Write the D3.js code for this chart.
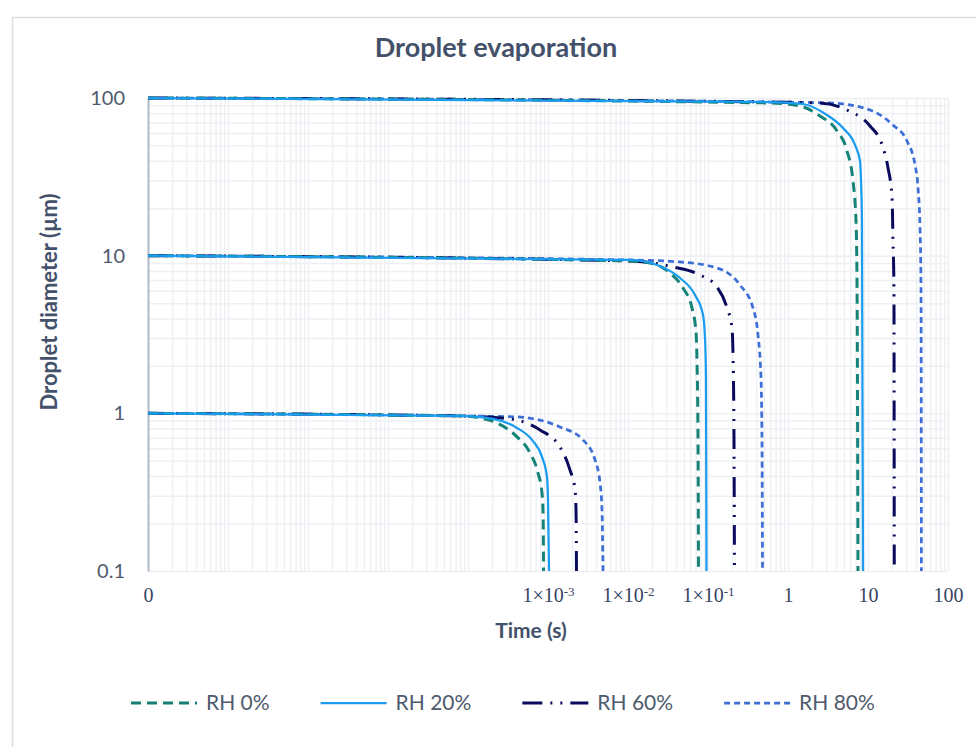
<!DOCTYPE html>
<html>
<head>
<meta charset="utf-8">
<script src="https://cdn.jsdelivr.net/npm/d3@7"></script>
<style>
body { margin: 0; background: #fff; }
</style>
</head>
<body>
<script>
//series names, legend order
var seriesNames = ["RH 0%", "RH 20%", "RH 60%", "RH 80%"];

//[time (s), droplet diameter (µm)], one array per RH and start size
var rh0_d100 = [[1e-8,100],[0.596,93.0],[1.41,89.0],[2.51,76.9],[4.10,61.8],[5.47,46.1],[6.49,29.8],[7.08,16.6],[7.29,6.91],[7.50,0.1]];
var rh20_d100 = [[1e-8,100],[0.596,94.3],[1.54,91.6],[3.07,78.0],[4.87,64.5],[6.88,50.4],[7.94,39.9],[8.18,29.8],[8.41,16.6],[8.66,0.1]];
var rh60_d100 = [[1e-8,100],[0.596,94.3],[2.51,93.0],[5.47,83.9],[10.6,66.4],[15.0,50.4],[17.8,36.0],[20.0,23.2],[20.5,12.9],[21.1,6.24],[21.3,0.1]];
var rh80_d100 = [[1e-8,100],[0.596,94.3],[3.35,93.0],[10.6,83.9],[20.5,67.4],[30.7,53.4],[38.7,37.6],[42.2,26.9],[44.7,15.0],[46.0,6.24],[46.5,0.1]];

var rh0_d10 = [[1e-8,10],[0.0106,9.26],[0.0188,8.99],[0.0335,7.77],[0.0487,6.24],[0.0631,4.66],[0.0708,3.28],[0.0729,2.12],[0.0750,0.70],[0.0760,0.1]];
var rh20_d10 = [[1e-8,10],[0.0106,9.39],[0.0230,8.73],[0.0447,7.22],[0.0688,5.63],[0.0866,4.21],[0.0917,3.01],[0.0944,1.68],[0.0958,0.1]];
var rh60_d10 = [[1e-8,10],[0.0106,9.26],[0.0365,8.48],[0.0794,7.54],[0.1296,6.33],[0.173,4.66],[0.1995,3.48],[0.2054,2.35],[0.2113,0.70],[0.2143,0.1]];
var rh80_d10 = [[1e-8,10],[0.0106,9.39],[0.0447,9.12],[0.1296,8.35],[0.2512,6.52],[0.365,4.66],[0.4217,3.14],[0.4597,1.68],[0.4732,0.63],[0.480,0.1]];

var rh0_d1 = [[1e-8,1],[7.94e-5,0.963],[1.41e-4,0.935],[2.30e-4,0.869],[4.10e-4,0.709],[5.96e-4,0.561],[7.50e-4,0.419],[8.41e-4,0.313],[8.66e-4,0.244],[8.8e-4,0.1]];
var rh20_d1 = [[1e-8,1],[7.94e-5,0.963],[2.05e-4,0.922],[4.10e-4,0.808],[6.31e-4,0.678],[8.41e-4,0.529],[9.71e-4,0.395],[1.0e-3,0.282],[1.03e-3,0.1]];
var rh60_d1 = [[1e-8,1],[7.94e-5,0.963],[3.35e-4,0.922],[7.94e-4,0.785],[1.41e-3,0.612],[1.88e-3,0.438],[2.18e-3,0.327],[2.24e-3,0.244],[2.27e-3,0.1]];
var rh80_d1 = [[1e-8,1],[7.94e-5,0.963],[4.10e-4,0.949],[1.41e-3,0.820],[2.74e-3,0.678],[3.87e-3,0.506],[4.47e-3,0.362],[4.73e-3,0.244],[4.87e-3,0.1]];

//tick values
var xTickValues = [1e-8, 1e-3, 1e-2, 1e-1, 1, 10, 100];
var yTickValues = [0.1, 1, 10, 100];

//chart frame
var width = 976,
    height = 747;
var plot = {left: 148, top: 98, right: 948, bottom: 571};

//line styles per series
var styles = [
    {color: "#168378", width: 3, dash: "10,6"},
    {color: "#1a9cf0", width: 2.25, dash: null},
    {color: "#0b0b5e", width: 3, dash: "20,8,2,8,2,8"},
    {color: "#3d6fd6", width: 2.75, dash: "6,4"}
];

var seriesData = [
    [rh0_d100, rh0_d10, rh0_d1],
    [rh20_d100, rh20_d10, rh20_d1],
    [rh60_d100, rh60_d10, rh60_d1],
    [rh80_d100, rh80_d10, rh80_d1]
];

var svg = d3.select("body")
    .append("svg")
    .attr("width", width)
    .attr("height", height)
    .style("font-family", "Lato, 'Open Sans', sans-serif");

svg.append("rect")
    .attr("width", width)
    .attr("height", height)
    .attr("fill", "#fff");

//outer chart border
svg.append("rect")
    .attr("x", 12.5)
    .attr("y", 17.5)
    .attr("width", width + 20)
    .attr("height", height + 20)
    .attr("fill", "none")
    .attr("stroke", "#d9dee5")
    .attr("stroke-width", 1.5);

//log scales on both axes
var x = d3.scaleLog()
    .domain([1e-8, 100])
    .range([plot.left, plot.right]);

var y = d3.scaleLog()
    .domain([0.1, 100])
    .range([plot.bottom, plot.top]);

//gridlines, major and minor
var gridX = svg.append("g")
    .attr("class", "gridX")
    .attr("transform", "translate(0," + plot.bottom + ")")
    .call(d3.axisBottom(x).tickValues(x.ticks(100)).tickSize(-(plot.bottom - plot.top)).tickFormat(""));

var gridY = svg.append("g")
    .attr("class", "gridY")
    .attr("transform", "translate(" + plot.left + ",0)")
    .call(d3.axisLeft(y).tickValues(y.ticks(50)).tickSize(-(plot.right - plot.left)).tickFormat(""));

svg.selectAll(".gridX .domain, .gridY .domain").remove();
svg.selectAll(".gridX line, .gridY line")
    .attr("stroke", "#eef0f4")
    .attr("stroke-width", 1.5);

//y axis
var yAxis = svg.append("g")
    .attr("transform", "translate(" + plot.left + ",0)")
    .call(d3.axisLeft(y).tickValues(yTickValues).tickSize(0).tickPadding(23).tickFormat(d3.format("~g")));

yAxis.select(".domain")
    .attr("stroke", "#b1bac7")
    .attr("stroke-width", 2);
yAxis.selectAll("text")
    .attr("fill", "#4f5b6d")
    .style("font-size", "20px")
    .style("font-family", "Lato, sans-serif");

//x axis
var xAxis = svg.append("g")
    .attr("transform", "translate(0," + plot.bottom + ")")
    .call(d3.axisBottom(x).tickValues(xTickValues).tickSize(0).tickPadding(17).tickFormat(""));

xAxis.select(".domain").remove();
xAxis.selectAll("text").each(function(d){
    var t = d3.select(this)
        .attr("fill", "#37445e")
        .style("font-size", "20px")
        .style("font-family", "'Liberation Serif', 'DejaVu Serif', serif");
    if (d === 1e-8){
        t.text("0");
    } else if (d < 1){
        t.append("tspan").text("1×10");
        t.append("tspan")
            .attr("dy", "-0.45em")
            .style("font-size", "13px")
            .text(Math.round(Math.log10(d)));
    } else {
        t.text(d3.format("~g")(d));
    }
});

//curves
svg.append("clipPath")
    .attr("id", "plotClip")
    .append("rect")
    .attr("x", plot.left)
    .attr("y", plot.top - 4)
    .attr("width", plot.right - plot.left)
    .attr("height", plot.bottom - plot.top + 5);

var line = d3.line()
    .x(function(d){ return x(d[0]); })
    .y(function(d){ return y(d[1]); })
    .curve(d3.curveMonotoneX);

var curves = svg.append("g").attr("clip-path", "url(#plotClip)");

//draw RH 80% first so the solid RH 20% line sits on top
[3, 2, 0, 1].forEach(function(i){
    curves.selectAll(".s" + i)
        .data(seriesData[i])
        .enter()
        .append("path")
        .attr("class", "s" + i)
        .attr("d", line)
        .attr("fill", "none")
        .attr("stroke", styles[i].color)
        .attr("stroke-width", styles[i].width)
        .attr("stroke-dasharray", styles[i].dash);
});

//title and axis titles
svg.append("text")
    .attr("x", 496)
    .attr("y", 57)
    .attr("text-anchor", "middle")
    .attr("fill", "#44516a")
    .style("font-size", "27px")
    .style("font-weight", "bold")
    .text("Droplet evaporation");

svg.append("text")
    .attr("x", 531)
    .attr("y", 638)
    .attr("text-anchor", "middle")
    .attr("fill", "#44516a")
    .style("font-size", "21px")
    .style("font-weight", "bold")
    .text("Time (s)");

svg.append("text")
    .attr("transform", "translate(57,302) rotate(-90)")
    .attr("text-anchor", "middle")
    .attr("fill", "#44516a")
    .style("font-size", "22px")
    .style("font-weight", "bold")
    .text("Droplet diameter (µm)");

//legend
var legendX = 131,
    legendY = 703,
    sampleLen = 66;

seriesNames.forEach(function(name, i){
    var g = svg.append("g").attr("transform", "translate(" + legendX + "," + legendY + ")");
    g.append("line")
        .attr("x1", 0)
        .attr("x2", sampleLen)
        .attr("stroke", styles[i].color)
        .attr("stroke-width", styles[i].width)
        .attr("stroke-dasharray", styles[i].dash);
    var label = g.append("text")
        .attr("x", sampleLen + 9)
        .attr("dy", "0.35em")
        .attr("fill", "#4f5b6d")
        .style("font-size", "21px")
        .text(name);
    legendX += sampleLen + 9 + label.node().getComputedTextLength() + 51;
});
</script>
</body>
</html>
